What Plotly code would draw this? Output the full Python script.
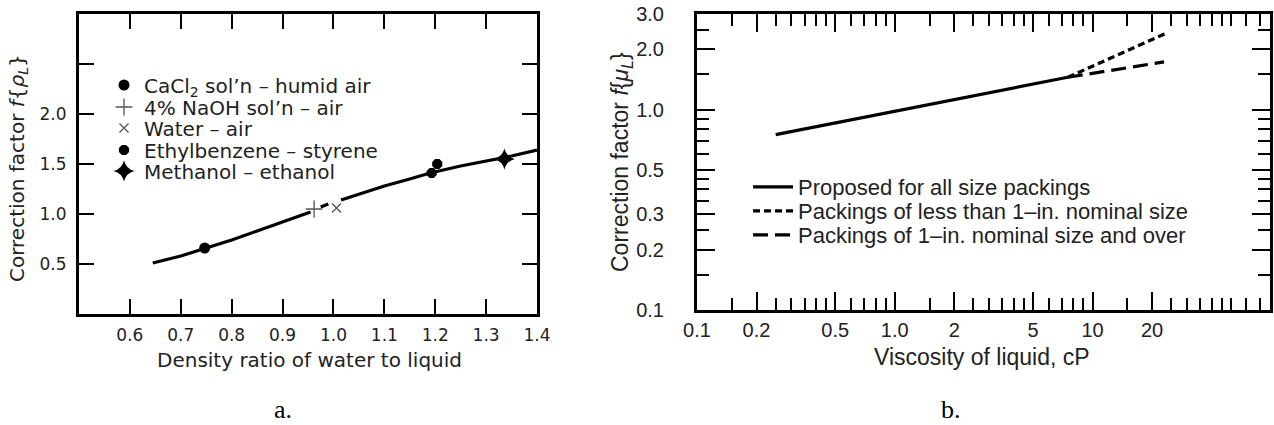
import plotly.graph_objects as go
import math

# ---------------- Panel a data ----------------
curve_a_x = [0.645, 0.70, 0.75, 0.80, 0.85, 0.90, 0.955, None, 0.975, 0.99, None, 1.015, 1.05, 1.10, 1.15, 1.19, 1.25, 1.30, 1.35, 1.40]
curve_a_y = [0.51, 0.58, 0.66, 0.74, 0.83, 0.92, 1.02, None, 1.07, 1.10, None, 1.14, 1.20, 1.28, 1.35, 1.41, 1.48, 1.53, 1.58, 1.64]

cacl2_x, cacl2_y = [0.747], [0.66]
naoh_x, naoh_y = [0.962], [1.05]
water_x, water_y = [1.006], [1.06]
ethyl_x, ethyl_y = [1.193, 1.204], [1.41, 1.50]
meth_x, meth_y = [1.336], [1.55]

a_xticks = [0.6, 0.7, 0.8, 0.9, 1.0, 1.1, 1.2, 1.3, 1.4]
a_xlabels = ["0.6", "0.7", "0.8", "0.9", "1.0", "1.1", "1.2", "1.3", "1.4"]
a_yticks = [0.5, 1.0, 1.5, 2.0, 2.5]
a_ylabels = ["0.5", "1.0", "1.5", "2.0", ""]

# ---------------- Panel b data ----------------
solid_x = [0.25, 7.5]
solid_y = [0.75, 1.45]
small_x = [7.5, 23.9]
small_y = [1.45, 2.42]
large_x = [7.5, 23.0]
large_y = [1.45, 1.73]

b_xticks = [0.1, 0.2, 0.5, 1, 2, 5, 10, 20]
b_xlabels = ["0.1", "0.2", "0.5", "1.0", "2", "5", "10", "20"]
b_xminor = [0.15, 0.25, 0.3, 0.35, 0.4, 0.45, 0.6, 0.7, 0.8, 0.9, 1.5, 2.5, 3, 3.5, 4, 4.5,
            6, 7, 8, 9, 15, 25, 30, 35, 40, 45, 50, 60, 70]
b_yticks = [0.1, 0.2, 0.3, 0.5, 1.0, 2.0, 3.0]
b_ylabels = ["0.1", "0.2", "0.3", "0.5", "1.0", "2.0", "3.0"]
b_yminor = [0.15, 0.25, 0.35, 0.4, 0.45, 0.6, 0.7, 0.8, 0.9, 1.5, 2.5]

W, H = 1274, 425
FA = "DejaVu Sans, Verdana, sans-serif"
FB = "Liberation Sans, Arial, sans-serif"
FS = "Liberation Serif, Times New Roman, serif"
TXT = "#222222"


def px_x(p):
    return p / W


def px_y(p):
    return 1 - p / H


fig = go.Figure()

fig.add_trace(go.Scatter(x=curve_a_x, y=curve_a_y, mode="lines", line=dict(color="black", width=3.2),
                         showlegend=False, xaxis="x", yaxis="y", hoverinfo="skip"))

a_series = [
    ("CaCl<sub>2</sub> sol’n – humid air", cacl2_x, cacl2_y, dict(symbol="circle", size=11, color="black")),
    ("4% NaOH sol’n – air", naoh_x, naoh_y, dict(symbol="cross-thin", size=12, line=dict(color="#555555", width=1.3))),
    ("Water – air", water_x, water_y, dict(symbol="x-thin", size=9, line=dict(color="#555555", width=1.3))),
    ("Ethylbenzene – styrene", ethyl_x, ethyl_y, dict(symbol="octagon", size=11, color="black")),
    ("Methanol – ethanol", meth_x, meth_y, dict(symbol="star-diamond", size=15, color="black")),
]
a_rows = [85, 107, 128, 150, 171]

b_series = [
    ("Proposed for all size packings", solid_x, solid_y, dict(color="black", width=3.2)),
    ("Packings of less than 1–in. nominal size", small_x, small_y, dict(color="black", width=3.2, dash="7px,4px")),
    ("Packings of 1–in. nominal size and over", large_x, large_y, dict(color="black", width=3.2, dash="15px,7px")),
]
b_rows = [187, 211, 235]

legends = {}
n = 1
for (name, xs, ys, mk), row in zip(a_series, a_rows):
    key = "legend" if n == 1 else f"legend{n}"
    fig.add_trace(go.Scatter(x=xs, y=ys, mode="markers", name=name, marker=mk, legend=key,
                             xaxis="x", yaxis="y"))
    legends[key] = dict(x=px_x(104), y=px_y(row), xanchor="left", yanchor="middle", bgcolor="rgba(0,0,0,0)",
                        font=dict(family=FA, size=20, color=TXT), itemwidth=30, borderwidth=0)
    n += 1
for (name, xs, ys, ln), row in zip(b_series, b_rows):
    key = f"legend{n}"
    fig.add_trace(go.Scatter(x=xs, y=ys, mode="lines", name=name, line=ln, legend=key,
                             xaxis="x2", yaxis="y2"))
    legends[key] = dict(x=px_x(748), y=px_y(row), xanchor="left", yanchor="middle", bgcolor="rgba(0,0,0,0)",
                        font=dict(family=FB, size=22, color=TXT), itemwidth=40, borderwidth=0)
    n += 1

axis_common = dict(showline=True, linecolor="black", linewidth=3, mirror="allticks", ticks="inside",
                   tickcolor="black", tickwidth=2, showgrid=False, zeroline=False, automargin=False)

fig.update_layout(
    width=W, height=H, margin=dict(l=0, r=0, t=0, b=0, autoexpand=False),
    paper_bgcolor="white", plot_bgcolor="white",
    xaxis=dict(domain=[px_x(79), px_x(537)], range=[0.5, 1.4], tickmode="array", tickvals=a_xticks,
               ticktext=a_xlabels, ticklen=15, ticklabelstandoff=4,
               tickfont=dict(family=FA, size=17, color=TXT), anchor="y", **axis_common),
    yaxis=dict(domain=[px_y(314), px_y(14)], range=[0, 3], tickmode="array", tickvals=a_yticks,
               ticktext=a_ylabels, ticklen=15, ticklabelstandoff=6,
               tickfont=dict(family=FA, size=17, color=TXT), anchor="x", **axis_common),
    xaxis2=dict(domain=[px_x(697), px_x(1270)], type="log", range=[-1, math.log10(79)], tickmode="array",
                tickvals=b_xticks, ticktext=b_xlabels, ticklen=18, ticklabelstandoff=0,
                minor=dict(tickmode="array", tickvals=b_xminor, ticklen=12, tickwidth=2, tickcolor="black", ticks="inside"),
                tickfont=dict(family=FB, size=20, color=TXT), anchor="y2", **axis_common),
    yaxis2=dict(domain=[px_y(310), px_y(14)], type="log", range=[-1, math.log10(3)], tickmode="array",
                tickvals=b_yticks, ticktext=b_ylabels, ticklen=18, ticklabelstandoff=26,
                minor=dict(tickmode="array", tickvals=b_yminor, ticklen=12, tickwidth=2, tickcolor="black", ticks="inside"),
                tickfont=dict(family=FB, size=20, color=TXT), anchor="x2", **axis_common),
    annotations=[
        dict(text="Correction factor <i>f</i>{<i>ρ<sub>L</sub></i>}", x=px_x(18), y=px_y(168), xref="paper", yref="paper",
             xanchor="center", yanchor="middle", textangle=-90, showarrow=False,
             font=dict(family=FA, size=20, color=TXT)),
        dict(text="Density ratio of water to liquid", x=px_x(309), y=px_y(360), xref="paper", yref="paper",
             xanchor="center", yanchor="middle", showarrow=False, font=dict(family=FA, size=20, color=TXT)),
        dict(text="Correction factor <i>f</i>{<i>μ<sub>L</sub></i>}", x=px_x(622), y=px_y(162), xref="paper", yref="paper",
             xanchor="center", yanchor="middle", textangle=-90, showarrow=False,
             font=dict(family=FB, size=23, color=TXT)),
        dict(text="Viscosity of liquid, cP", x=px_x(982), y=px_y(357), xref="paper", yref="paper",
             xanchor="center", yanchor="middle", showarrow=False, font=dict(family=FB, size=23, color=TXT)),
        dict(text="a.", x=px_x(283), y=px_y(409), xref="paper", yref="paper", xanchor="center", yanchor="middle",
             showarrow=False, font=dict(family=FS, size=26, color="black")),
        dict(text="b.", x=px_x(951), y=px_y(409), xref="paper", yref="paper", xanchor="center", yanchor="middle",
             showarrow=False, font=dict(family=FS, size=26, color="black")),
    ],
    **legends,
)

fig.write_html("out.html")
